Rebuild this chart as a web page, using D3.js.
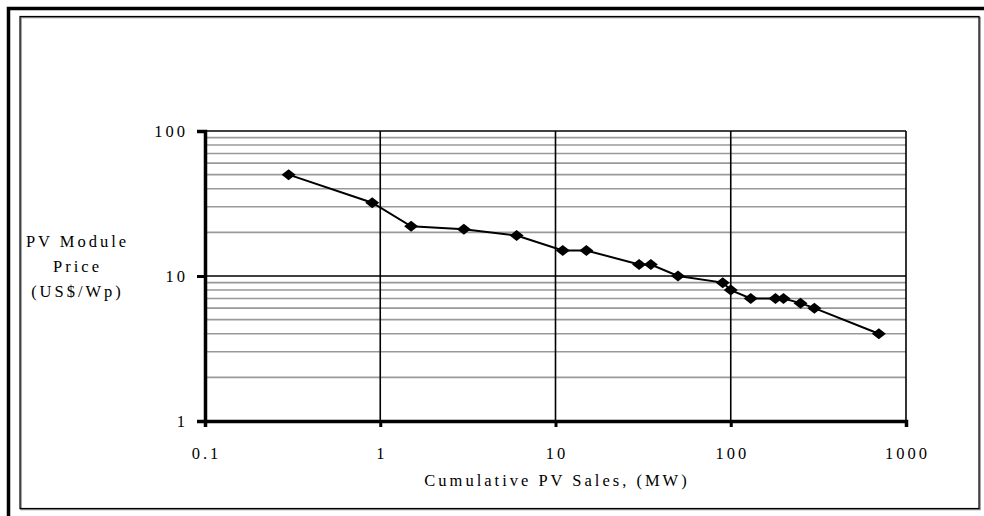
<!DOCTYPE html>
<html>
<head>
<meta charset="utf-8">
<script src="https://cdn.jsdelivr.net/npm/d3@7"></script>
<style>
  body { margin: 0; background: #fff; }
</style>
</head>
<body>
<div id="chart"></div>
<script>
// cumulative sales (MW) and module price (US$/Wp)
const sales = [0.3, 0.9, 1.5, 3, 6, 11, 15, 30, 35, 50, 90, 100, 130, 180, 200, 250, 300, 700];
const price = [50, 32, 22, 21, 19, 15, 15, 12, 12, 10, 9, 8, 7, 7, 7, 6.5, 6, 4];
const xTicks = [0.1, 1, 10, 100, 1000];
const yTicks = [1, 10, 100];
const xTickLabels = ["0.1", "1", "10", "100", "1000"];
const yTickLabels = ["1", "10", "100"];

const width = 984, height = 516;
const margins = {top: 131, bottom: 95, left: 205, right: 78};
const ls = 3.0; // letter spacing, used to re-centre text
const font = "Liberation Serif";

const svg = d3.select('#chart').append('svg')
  .attr('width', width)
  .attr('height', height);

// frames
svg.append('path')
  .attr('d', `M8.5,${height} V8.5 H${width}`)
  .attr('fill', 'none')
  .attr('stroke', '#000')
  .attr('stroke-width', 3.5);
svg.append('rect')
  .attr('x', 21).attr('y', 17.5).attr('width', 959).attr('height', 492)
  .attr('fill', 'none').attr('stroke', '#888').attr('stroke-width', 1.5);
svg.append('rect')
  .attr('x', 20).attr('y', 16.5).attr('width', 959).attr('height', 492)
  .attr('fill', 'none').attr('stroke', '#000').attr('stroke-width', 1.2);

/** SCALES */
const xScale = d3.scaleLog()
  .domain([0.1, 1000])
  .range([margins.left, width - margins.right]);
const yScale = d3.scaleLog()
  .domain([1, 100])
  .range([height - margins.bottom, margins.top]);

// minor horizontal gridlines
const minor = [];
[1, 10].forEach(d => { for (let k = 2; k <= 9; k++) minor.push(d * k); });
svg.selectAll('line.minor')
  .data(minor)
  .join('line')
  .attr('class', 'minor')
  .attr('x1', xScale(0.1)).attr('x2', xScale(1000))
  .attr('y1', d => yScale(d)).attr('y2', d => yScale(d))
  .attr('stroke', '#999')
  .attr('stroke-width', 1.6);

// major gridlines
svg.selectAll('line.hmajor')
  .data([10, 100])
  .join('line')
  .attr('class', 'hmajor')
  .attr('x1', xScale(0.1)).attr('x2', xScale(1000))
  .attr('y1', d => yScale(d)).attr('y2', d => yScale(d))
  .attr('stroke', '#000')
  .attr('stroke-width', 1.6);
svg.selectAll('line.vmajor')
  .data([1, 10, 100, 1000])
  .join('line')
  .attr('class', 'vmajor')
  .attr('y1', yScale(1)).attr('y2', yScale(100))
  .attr('x1', d => xScale(d)).attr('x2', d => xScale(d))
  .attr('stroke', '#000')
  .attr('stroke-width', 1.6);

/** AXES */
const xAxis = svg.append('g')
  .attr('transform', `translate(0, ${yScale(1)})`)
  .call(d3.axisBottom(xScale).tickValues(xTicks).tickSize(6).tickFormat(''));
const yAxis = svg.append('g')
  .attr('transform', `translate(${xScale(0.1)}, 0)`)
  .call(d3.axisLeft(yScale).tickValues(yTicks).tickSize(8).tickFormat(''));
[xAxis, yAxis].forEach(g => {
  g.select('.domain').attr('stroke', '#000').attr('stroke-width', 3.5);
  g.selectAll('.tick line').attr('stroke', '#000').attr('stroke-width', 3);
});

// all text shares the same serif style
function styleText(sel) {
  sel.style('font-family', font)
    .style('font-size', '16.5px')
    .style('letter-spacing', ls + 'px')
    .attr('fill', '#000');
}

// tick labels
svg.selectAll('text.xlab')
  .data(xTicks)
  .join('text')
  .attr('class', 'xlab')
  .attr('x', d => xScale(d) + ls / 2)
  .attr('y', 459)
  .attr('text-anchor', 'middle')
  .text((d, i) => xTickLabels[i])
  .call(styleText);
svg.selectAll('text.ylab')
  .data(yTicks)
  .join('text')
  .attr('class', 'ylab')
  .attr('x', 185 + ls)
  .attr('y', d => yScale(d) + 5.5)
  .attr('text-anchor', 'end')
  .text((d, i) => yTickLabels[i])
  .call(styleText);

// axis titles
svg.append('text')
  .attr('x', xScale(10) + ls / 2)
  .attr('y', 486)
  .attr('text-anchor', 'middle')
  .text('Cumulative PV Sales, (MW)')
  .call(styleText);
svg.selectAll('text.ytitle')
  .data(['PV Module', 'Price', '(US$/Wp)'])
  .join('text')
  .attr('class', 'ytitle')
  .attr('x', 76 + ls / 2)
  .attr('y', (d, i) => 247 + i * 25)
  .attr('text-anchor', 'middle')
  .text(d => d)
  .call(styleText);

/** DATA */
const points = sales.map((s, i) => ({s, p: price[i]}));
svg.append('path')
  .datum(points)
  .attr('fill', 'none')
  .attr('stroke', '#000')
  .attr('stroke-width', 2)
  .attr('d', d3.line().x(d => xScale(d.s)).y(d => yScale(d.p)));

svg.selectAll('path.marker')
  .data(points)
  .join('path')
  .attr('class', 'marker')
  .attr('transform', d => `translate(${xScale(d.s)}, ${yScale(d.p)})`)
  .attr('d', 'M-7,0 L0,-5.5 L7,0 L0,5.5 Z')
  .attr('fill', '#000');
</script>
</body>
</html>
